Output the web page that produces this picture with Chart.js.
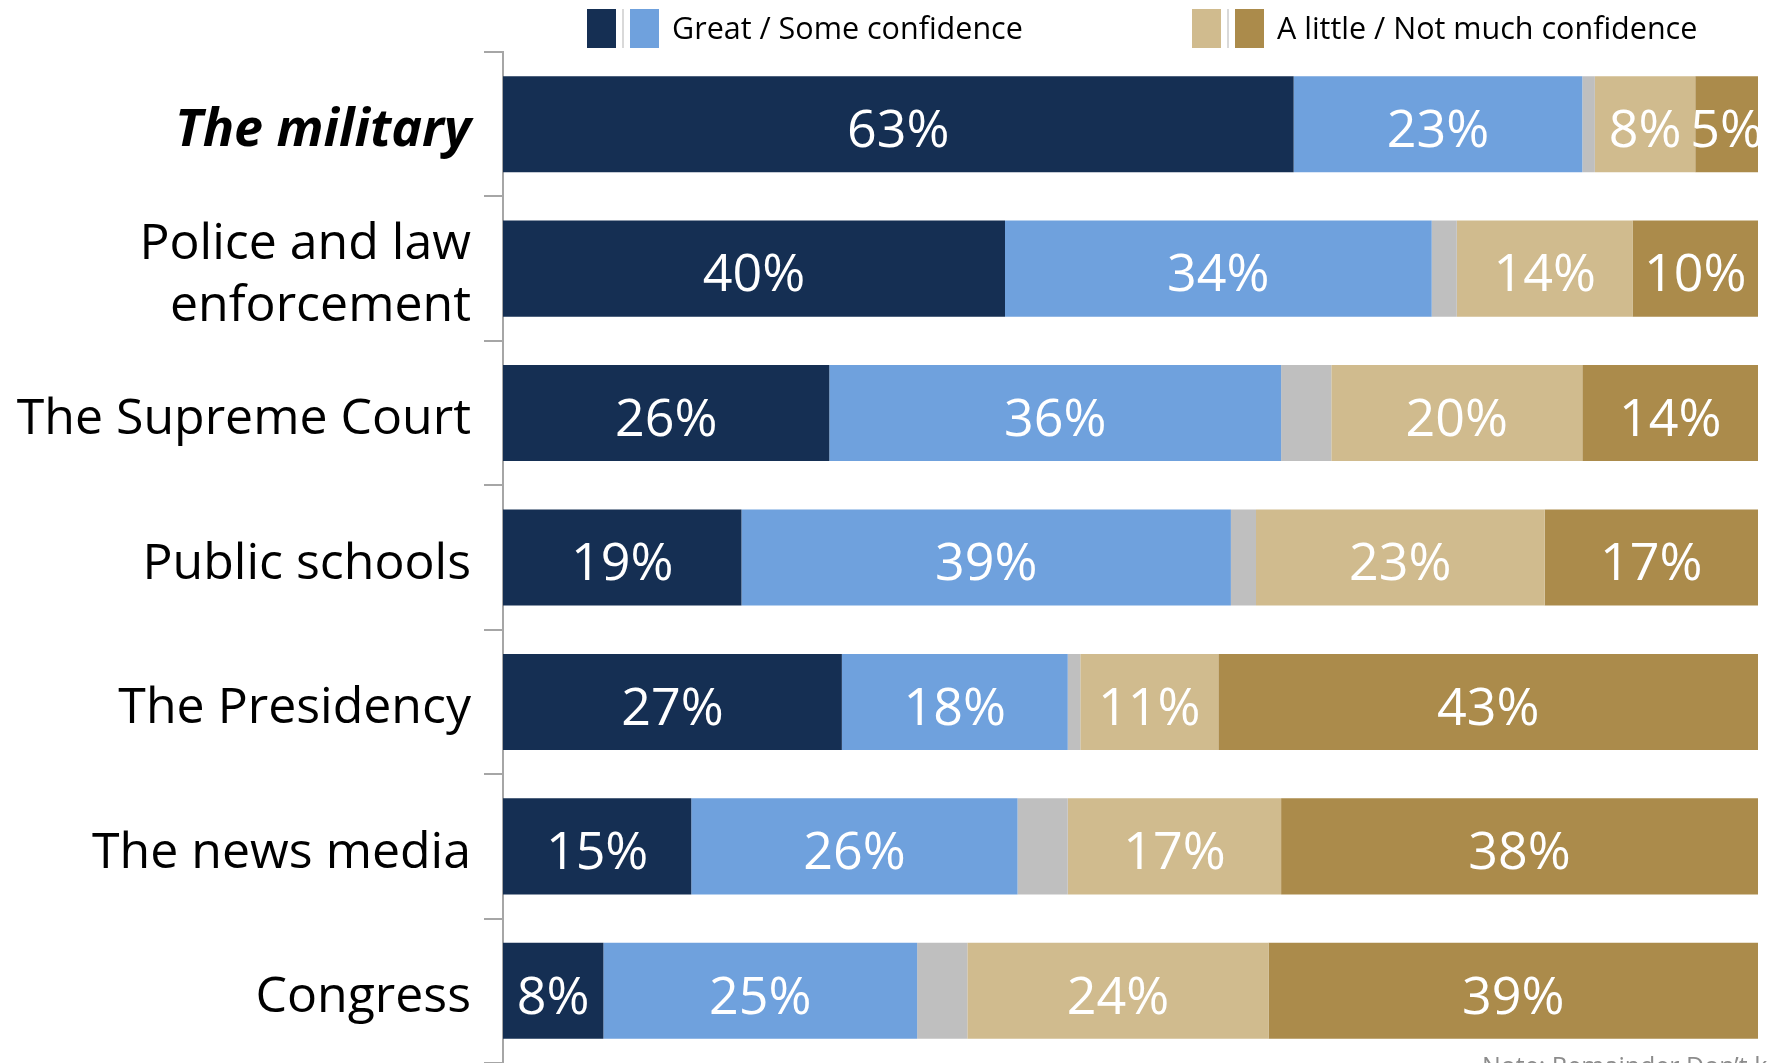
<!DOCTYPE html>
<html>
<head>
<meta charset="utf-8">
<script src="https://cdn.jsdelivr.net/npm/chart.js@4.4.1/dist/chart.umd.min.js"></script>
<style>
  html, body { margin: 0; padding: 0; background: #ffffff; }
  #wrap { width: 1767px; height: 1063px; position: relative; }
</style>
</head>
<body>
<div id="wrap"><canvas id="chart" width="1767" height="1063"></canvas></div>
<script>
// Institutions (top to bottom)
const institutions = [
    "The military",
    ["Police and law", "enforcement"],
    "The Supreme Court",
    "Public schools",
    "The Presidency",
    "The news media",
    "Congress"
];

// Percentages per answer group
const greatDeal   = [63, 40, 26, 19, 27, 15, 8];
const someConf    = [23, 34, 36, 39, 18, 26, 25];
const dontKnow    = [1, 2, 4, 2, 1, 4, 4];
const aLittle     = [8, 14, 20, 23, 11, 17, 24];
const notMuch     = [5, 10, 14, 17, 43, 38, 39];

const legendGroups = ["Great / Some confidence", "A little / Not much confidence"];
const noteText = "Note: Remainder Don\u2019t know";

const FONT = "'Open Sans', 'Noto Sans', sans-serif";

// Draws white % labels centred in each coloured segment (skips the grey DK piece)
const segmentLabels = {
    id: "segmentLabels",
    afterDatasetsDraw(chart) {
        const ctx = chart.ctx;
        ctx.save();
        ctx.fillStyle = "#ffffff";
        ctx.font = "52px " + FONT;
        ctx.textAlign = "center";
        ctx.textBaseline = "middle";
        chart.data.datasets.forEach((ds, i) => {
            if (ds.noLabel) return;
            const meta = chart.getDatasetMeta(i);
            meta.data.forEach((bar, j) => {
                const mid = (bar.x + bar.base) / 2;
                ctx.fillText(ds.data[j] + "%", mid, bar.y + 8);
            });
        });
        ctx.restore();
    }
};

// Legend across the top + the clipped note at the bottom
const topLegend = {
    id: "topLegend",
    afterDraw(chart) {
        const ctx = chart.ctx;
        ctx.save();
        const boxes = [
            { x: 587, c: "#152f53" }, { x: 630, c: "#6fa1dd" },
            { x: 1192, c: "#d0bb8e" }, { x: 1235, c: "#ab8b4b" }
        ];
        boxes.forEach(b => {
            ctx.fillStyle = b.c;
            ctx.fillRect(b.x, 9, 29, 39);
        });
        ctx.fillStyle = "#d9d9d9";
        ctx.fillRect(622, 9, 2, 39);
        ctx.fillRect(1227, 9, 2, 39);

        ctx.fillStyle = "#000000";
        ctx.font = "30.5px " + FONT;
        ctx.textAlign = "left";
        ctx.textBaseline = "middle";
        ctx.fillText(legendGroups[0], 672, 30);
        ctx.fillText(legendGroups[1], 1277, 30);

        ctx.fillStyle = "#8c8c8c";
        ctx.font = "25px " + FONT;
        ctx.textBaseline = "alphabetic";
        ctx.fillText(noteText, 1482, 1075);
        ctx.restore();
    }
};

const ctx = document.getElementById("chart").getContext("2d");
new Chart(ctx, {
    type: "bar",
    data: {
        labels: institutions,
        datasets: [
            { label: "Great deal", data: greatDeal, backgroundColor: "#152f53" },
            { label: "Some", data: someConf, backgroundColor: "#6fa1dd" },
            { label: "Don't know", data: dontKnow, backgroundColor: "#bfbfbf", noLabel: true },
            { label: "A little", data: aLittle, backgroundColor: "#d0bb8e" },
            { label: "Not much", data: notMuch, backgroundColor: "#ab8b4b" }
        ]
    },
    options: {
        indexAxis: "y",
        responsive: false,
        animation: false,
        layout: { padding: { top: 52, right: 9, bottom: 0, left: 0 } },
        datasets: { bar: { categoryPercentage: 1, barPercentage: 0.665, borderWidth: 0 } },
        plugins: { legend: { display: false }, tooltip: { enabled: false } },
        scales: {
            x: { stacked: true, min: 0, max: 100, display: false },
            y: {
                stacked: true,
                afterFit: scale => {
                    scale.width = 503;
                    scale.paddingTop = 0;
                    scale.paddingBottom = 0;
                },
                border: { display: true, color: "#a6a6a6", width: 2 },
                grid: {
                    display: true, offset: true, drawOnChartArea: false,
                    drawTicks: true, tickLength: 19, color: "#a6a6a6", lineWidth: 2
                },
                ticks: {
                    color: "#000000",
                    padding: 13,
                    labelOffset: 7,
                    font: c => c.index === 0
                        ? { family: FONT, size: 52, weight: "bold", style: "italic", lineHeight: 1.25 }
                        : { family: FONT, size: 50, lineHeight: 1.25 }
                }
            }
        }
    },
    plugins: [segmentLabels, topLegend]
});
</script>
</body>
</html>
